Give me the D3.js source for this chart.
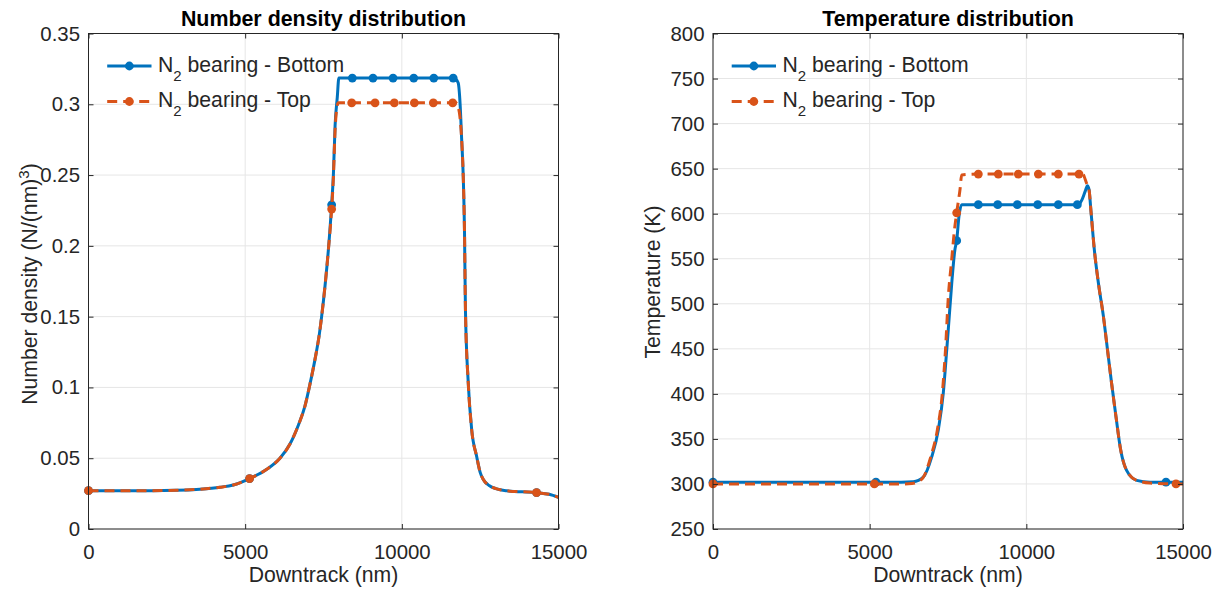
<!DOCTYPE html>
<html><head><meta charset="utf-8">
<script src="https://cdn.jsdelivr.net/npm/d3@7"></script>
<style>
html,body{margin:0;padding:0;background:#fff;}
svg{display:block;font-family:'Liberation Sans',Arial,Helvetica,sans-serif;}
text{white-space:pre;}
</style></head><body>
<svg id="chart" width="1219" height="591"></svg>
<script>
// ---------------- DATA ----------------
const xTicks = [0, 5000, 10000, 15000];
const xTickLabels = ["0", "5000", "10000", "15000"];

const ndTicks = [0, 0.05, 0.1, 0.15, 0.2, 0.25, 0.3, 0.35];
const ndTickLabels = ["0", "0.05", "0.1", "0.15", "0.2", "0.25", "0.3", "0.35"];

const tTicks = [250, 300, 350, 400, 450, 500, 550, 600, 650, 700, 750, 800];
const tTickLabels = ["250", "300", "350", "400", "450", "500", "550", "600", "650", "700", "750", "800"];

const legendNames = ["bearing - Bottom", "bearing - Top"];

// Number density, bottom
const ndBottomX = [0,1000,2000,2800,3560,4200,4620,5140,5690,6110,6430,6700,6910,7070,7230,7370,7440,7550,7655,7760,7815,7870,7940,7990,8420,9080,9720,10380,11020,11640,11710,11800,11860,11910,11960,12000,12030,12120,12230,12390,12500,12600,12800,13000,13350,14300,14700,15000];
const ndBottomY = [0.0271,0.0271,0.0271,0.0273,0.0281,0.0295,0.0311,0.0356,0.0422,0.0500,0.0600,0.0735,0.0870,0.1025,0.1200,0.1380,0.1500,0.1720,0.1970,0.2290,0.2500,0.2850,0.3050,0.3185,0.3185,0.3185,0.3185,0.3185,0.3185,0.3185,0.3180,0.3150,0.3000,0.2750,0.2490,0.2100,0.1550,0.1030,0.0700,0.0510,0.0400,0.0350,0.0305,0.0285,0.0270,0.0257,0.0245,0.0224];
const ndBottomMarkers = [0,7,19,24,25,26,27,28,29,45];

// Number density, top
const ndTopX = [0,1000,2000,2800,3560,4200,4620,5140,5690,6110,6430,6700,6910,7070,7230,7370,7440,7550,7655,7760,7815,7870,7930,7975,8400,9145,9760,10400,11005,11624,11720,11800,11860,11910,11960,12000,12030,12120,12230,12390,12500,12600,12800,13000,13350,14300,14700,15000];
const ndTopY = [0.0271,0.0271,0.0271,0.0273,0.0281,0.0295,0.0311,0.0356,0.0422,0.0500,0.0600,0.0735,0.0870,0.1025,0.1200,0.1380,0.1500,0.1720,0.1970,0.2260,0.2480,0.2820,0.2980,0.3010,0.3010,0.3010,0.3010,0.3010,0.3010,0.3010,0.3010,0.2980,0.2900,0.2750,0.2490,0.2100,0.1550,0.1030,0.0700,0.0510,0.0400,0.0350,0.0305,0.0285,0.0270,0.0257,0.0245,0.0224];
const ndTopMarkers = [0,7,19,24,25,26,27,28,29,45];

// Temperature, bottom
const tBottomX = [0,2000,4000,5200,6000,6390,6710,6980,7190,7350,7460,7540,7620,7720,7777,7850,7937,8468,9087,9713,10364,11021,11628,11700,11770,11880,11950,12000,12060,12170,12300,12460,12590,12720,12860,13010,13200,13520,13950,14457,15000];
const tBottomY = [302,302,302,302,302,302.5,307.5,330,360,401,449,486,523,560,570,597,610,610,610,610,610,610,610,611,615,625,631,627,604,560,523,486,449,412,375,338,315,304,302,302,302];
const tBottomMarkers = [0,3,14,17,18,19,20,21,22,39];

// Temperature, top
const tTopX = [0,2000,4000,5150,6000,6350,6680,6950,7160,7320,7420,7511,7618,7700,7777,7884,7937,8468,9106,9744,10383,11021,11681,11800,11880,11950,12000,12060,12170,12300,12460,12590,12720,12860,13010,13200,13520,13950,14777,15000];
const tTopY = [300,300,300,300,300,300.5,306,330,360,401,449,508,549,580,601,627,643,644,644,644,644,644,644,644,638,631,627,604,560,523,486,449,412,375,338,315,304,301,300,300];
const tTopMarkers = [0,3,14,17,18,19,20,21,22,38];

// ---------------- DRAWING ----------------
const svg = d3.select("#chart");
const BLUE = "#0072BD", ORANGE = "#D95319", AX = "#262626";
const TICKFS = 20.4, LBLFS = 21.2;

function zip(xs, ys) { return xs.map((x, i) => [x, ys[i]]); }

function panel(o) {
  const g = svg.append("g");
  const x = d3.scaleLinear().domain([0, 15000]).range([o.left, o.right]);
  const y = d3.scaleLinear().domain(o.yDomain).range([o.bottom, o.top]);
  const W = o.right - o.left, H = o.bottom - o.top;

  // grid
  const grid = g.append("g").attr("stroke", "#e6e6e6").attr("stroke-width", 1);
  xTicks.forEach(t => grid.append("line").attr("x1", x(t)).attr("x2", x(t)).attr("y1", o.top).attr("y2", o.bottom));
  o.yTicks.forEach(t => grid.append("line").attr("x1", o.left).attr("x2", o.right).attr("y1", y(t)).attr("y2", y(t)));

  const line = d3.line().x(d => x(d[0])).y(d => y(d[1])).curve(d3.curveMonotoneX);
  o.series.forEach(s => {
    const pts = zip(s.x, s.y);
    g.append("path").datum(pts).attr("d", line).attr("fill", "none")
      .attr("stroke", s.color).attr("stroke-width", 3).attr("stroke-linejoin", "round")
      .attr("stroke-dasharray", s.dash || null);
    g.selectAll(null).data(s.m.map(i => pts[i])).enter().append("circle")
      .attr("cx", d => x(d[0])).attr("cy", d => y(d[1])).attr("r", 4.4).attr("fill", s.color);
  });

  // frame
  g.append("rect").attr("x", o.left).attr("y", o.top).attr("width", W).attr("height", H)
    .attr("fill", "none").attr("stroke", AX).attr("stroke-width", 1);

  // axes
  const fmtX = (d, i) => xTickLabels[i];
  const fmtY = (d, i) => o.yLabels[i];
  const bx = g.append("g").attr("transform", `translate(0,${o.bottom})`)
    .call(d3.axisBottom(x).tickValues(xTicks).tickFormat(fmtX).tickSizeInner(-5).tickSizeOuter(0).tickPadding(16));
  const tx = g.append("g").attr("transform", `translate(0,${o.top})`)
    .call(d3.axisTop(x).tickValues(xTicks).tickFormat("").tickSizeInner(-5).tickSizeOuter(0));
  const ly = g.append("g").attr("transform", `translate(${o.left},0)`)
    .call(d3.axisLeft(y).tickValues(o.yTicks).tickFormat(fmtY).tickSizeInner(-5).tickSizeOuter(0).tickPadding(8.5));
  const ry = g.append("g").attr("transform", `translate(${o.right},0)`)
    .call(d3.axisRight(y).tickValues(o.yTicks).tickFormat("").tickSizeInner(-5).tickSizeOuter(0));
  [bx, tx, ly, ry].forEach(a => {
    a.select(".domain").remove();
    a.selectAll(".tick line").attr("stroke", AX);
    a.selectAll("text").attr("fill", AX).attr("font-size", TICKFS)
      .attr("font-family", "'Liberation Sans',Arial,sans-serif");
  });

  // title
  g.append("text").attr("x", (o.left + o.right) / 2).attr("y", 26).attr("text-anchor", "middle")
    .attr("font-weight", "bold").attr("font-size", 21.4).attr("fill", "#000").text(o.title);
  // xlabel
  g.append("text").attr("x", (o.left + o.right) / 2).attr("y", 582).attr("text-anchor", "middle")
    .attr("font-size", LBLFS).attr("fill", AX).text("Downtrack (nm)");
  // ylabel
  const yl = g.append("text").attr("transform", `translate(${o.ylabelX},${o.ylabelY}) rotate(-90)`)
    .attr("text-anchor", "middle").attr("font-size", LBLFS).attr("fill", AX);
  o.ylabel(yl);

  // legend
  o.series.forEach((s, i) => {
    const cy = 66 + i * 35.5;
    const lx0 = o.left + 18.7, lx1 = o.left + 63;
    g.append("line").attr("x1", lx0).attr("x2", lx1).attr("y1", cy).attr("y2", cy)
      .attr("stroke", s.color).attr("stroke-width", 3).attr("stroke-dasharray", s.dash || null);
    g.append("circle").attr("cx", (lx0 + lx1) / 2).attr("cy", cy).attr("r", 4.4).attr("fill", s.color);
    const t = g.append("text").attr("x", o.left + 69.5).attr("y", cy + 5.7)
      .attr("font-size", LBLFS).attr("fill", AX);
    t.append("tspan").text("N");
    t.append("tspan").attr("dy", 9).attr("font-size", 15).text("2");
    t.append("tspan").attr("dy", -9).text(" " + legendNames[i]);
  });
}

panel({
  left: 88.5, right: 558.5, top: 33.5, bottom: 529,
  yDomain: [0, 0.35], yTicks: ndTicks, yLabels: ndTickLabels,
  title: "Number density distribution",
  ylabelX: 36.5, ylabelY: 284,
  ylabel: t => {
    t.append("tspan").text("Number density (N/(nm)");
    t.append("tspan").attr("dy", -8).attr("font-size", 15).text("3");
    t.append("tspan").attr("dy", 8).text(")");
  },
  series: [
    { x: ndBottomX, y: ndBottomY, m: ndBottomMarkers, color: BLUE },
    { x: ndTopX, y: ndTopY, m: ndTopMarkers, color: ORANGE, dash: "10,6" }
  ]
});

panel({
  left: 713, right: 1183, top: 33.5, bottom: 529,
  yDomain: [250, 800], yTicks: tTicks, yLabels: tTickLabels,
  title: "Temperature distribution",
  ylabelX: 660, ylabelY: 282,
  ylabel: t => { t.append("tspan").text("Temperature (K)"); },
  series: [
    { x: tBottomX, y: tBottomY, m: tBottomMarkers, color: BLUE },
    { x: tTopX, y: tTopY, m: tTopMarkers, color: ORANGE, dash: "10,6" }
  ]
});
</script>
</body></html>
